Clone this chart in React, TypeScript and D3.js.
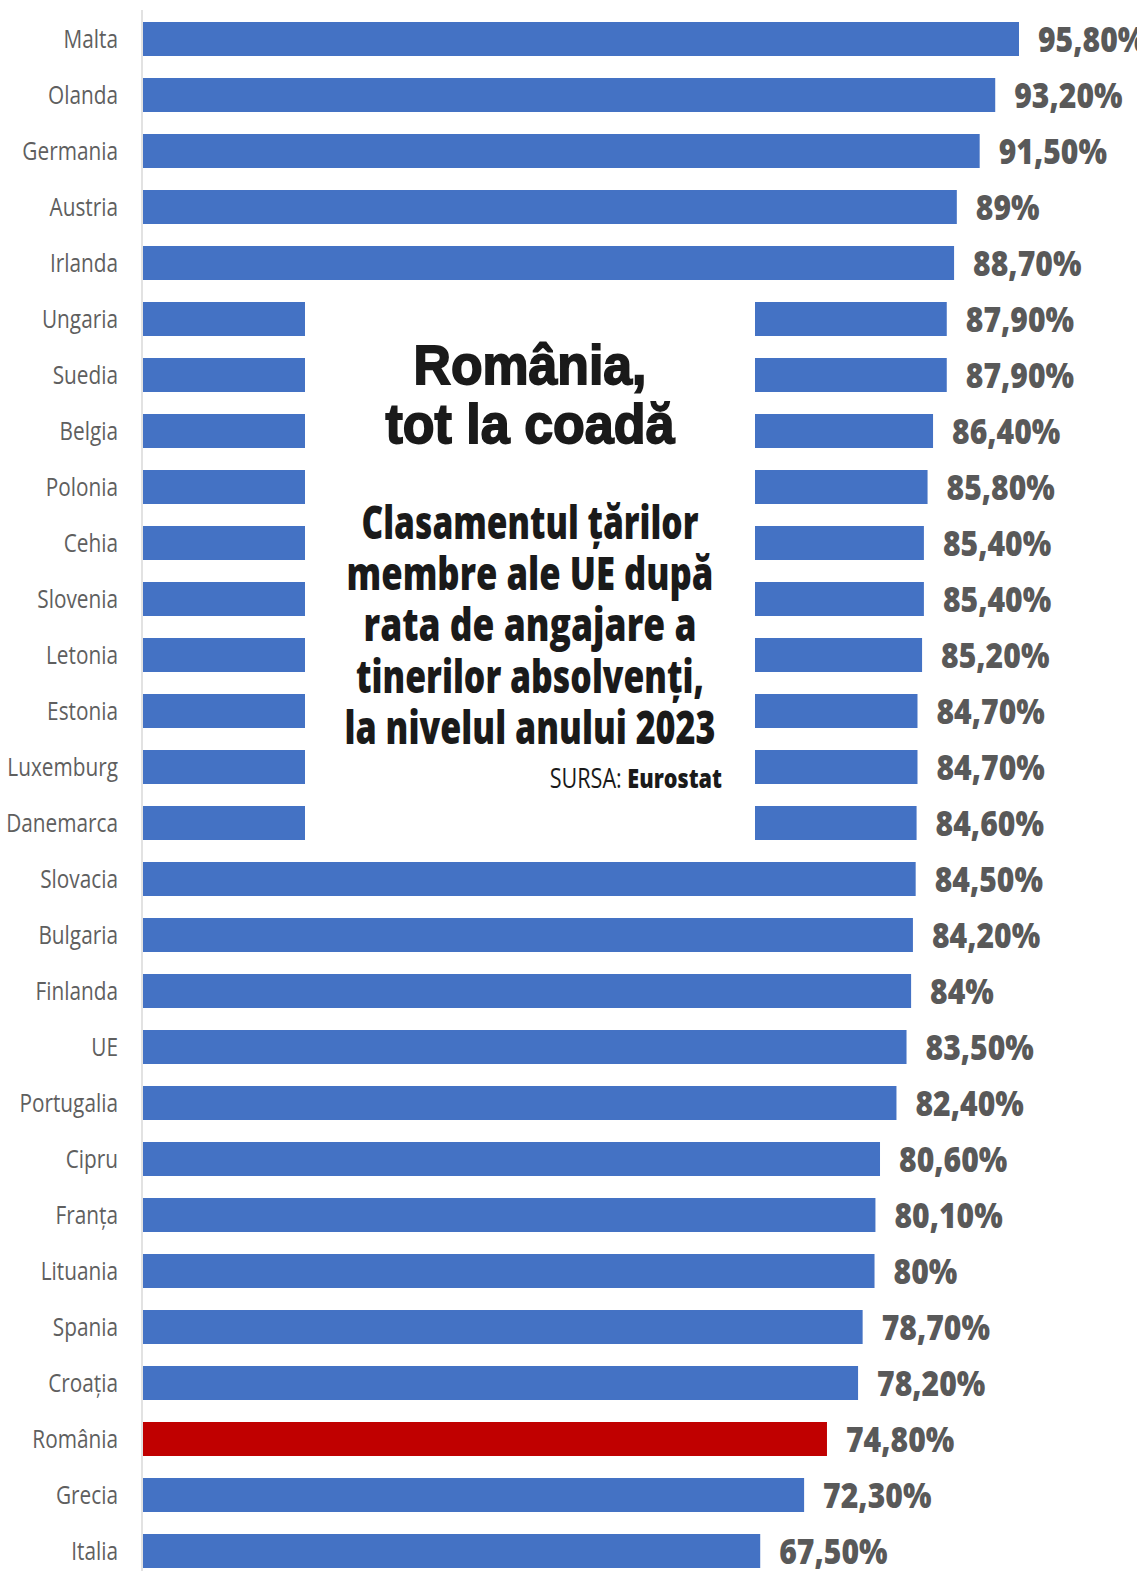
import React from "react";
import * as d3 from "d3";

const countries = [
  "Malta", "Olanda", "Germania", "Austria", "Irlanda", "Ungaria", "Suedia",
  "Belgia", "Polonia", "Cehia", "Slovenia", "Letonia", "Estonia", "Luxemburg",
  "Danemarca", "Slovacia", "Bulgaria", "Finlanda", "UE", "Portugalia", "Cipru",
  "Franța", "Lituania", "Spania", "Croația", "România", "Grecia", "Italia",
];
const values = [
  95.8, 93.2, 91.5, 89, 88.7, 87.9, 87.9, 86.4, 85.8, 85.4, 85.4, 85.2, 84.7,
  84.7, 84.6, 84.5, 84.2, 84, 83.5, 82.4, 80.6, 80.1, 80, 78.7, 78.2, 74.8,
  72.3, 67.5,
];
const highlight = "România";
const titleLines = ["România,", "tot la coadă"];
const subtitleLines = [
  "Clasamentul țărilor",
  "membre ale UE după",
  "rata de angajare a",
  "tinerilor absolvenți,",
  "la nivelul anului 2023",
];
const sourceLabel = "SURSA: ";
const sourceName = "Eurostat";

const W = 1137;
const H = 1571;

const fmt = (v: number) =>
  (Number.isInteger(v) ? String(v) : v.toFixed(2).replace(".", ",")) + "%";

export default function App() {
  const x = d3.scaleLinear().domain([0, 100]).range([143, 143 + 914.4]);
  const y = d3
    .scaleBand<string>()
    .domain(countries)
    .range([11, 11 + countries.length * 56])
    .paddingInner(22 / 56)
    .paddingOuter(11 / 56);
  const bw = y.bandwidth();

  const titleWidths = [233, 289];
  const subWidths = [337, 367, 333, 348, 371];

  return (
    <div style={{ position: "absolute", left: 0, top: 0 }}>
      <svg width={W} height={H} style={{ display: "block", background: "#fff" }}>
        <rect x={0} y={0} width={W} height={H} fill="#fff" />
        <line x1={142} x2={142} y1={10} y2={H} stroke="#d9d9d9" strokeWidth={1.5} />
        {countries.map((c, i) => {
          const yy = y(c)!;
          const v = values[i];
          return (
            <rect
              key={c}
              x={x(0)}
              y={yy}
              width={x(v) - x(0)}
              height={bw}
              fill={c === highlight ? "#C00000" : "#4472C4"}
            />
          );
        })}
        {/* white title box */}
        <rect x={305} y={288} width={450} height={564} fill="#fff" />
        {countries.map((c, i) => {
          const cy = y(c)! + bw / 2;
          const v = values[i];
          return (
            <g key={"l" + c}>
              <text
                transform={`translate(118,${cy + 9}) scale(0.8,1)`}
                textAnchor="end"
                fontFamily="'Open Sans', 'Noto Sans', sans-serif"
                fontSize={26}
                fill="#5f5f5f"
              >
                {c}
              </text>
              <text
                transform={`translate(${x(v) + 19},${cy + 13}) scale(0.86,1)`}
                textAnchor="start"
                fontFamily="'Open Sans', 'Noto Sans', sans-serif"
                fontWeight={800}
                fontSize={35}
                fill="#595959"
              >
                {fmt(v)}
              </text>
            </g>
          );
        })}
        {titleLines.map((t, i) => (
          <text
            key={t}
            x={530}
            y={384 + i * 59}
            textAnchor="middle"
            fontFamily="'Liberation Sans', Arial, sans-serif"
            fontWeight={700}
            fontSize={55}
            fill="#1a1a1a"
            stroke="#1a1a1a"
            strokeWidth={1.8}
            textLength={titleWidths[i]}
            lengthAdjust="spacingAndGlyphs"
          >
            {t}
          </text>
        ))}
        {subtitleLines.map((t, i) => (
          <text
            key={t}
            x={530}
            y={539 + i * 51.2}
            textAnchor="middle"
            fontFamily="'Open Sans', 'Noto Sans', sans-serif"
            fontWeight={800}
            fontSize={46}
            fill="#1a1a1a"
            textLength={subWidths[i]}
            lengthAdjust="spacingAndGlyphs"
          >
            {t}
          </text>
        ))}
        <text
          transform="translate(722,788) scale(0.8,1)"
          textAnchor="end"
          fontFamily="'Open Sans', 'Noto Sans', sans-serif"
          fontSize={27}
          fill="#1a1a1a"
        >
          <tspan>{sourceLabel}</tspan>
          <tspan fontWeight={800}>{sourceName}</tspan>
        </text>
      </svg>
    </div>
  );
}
